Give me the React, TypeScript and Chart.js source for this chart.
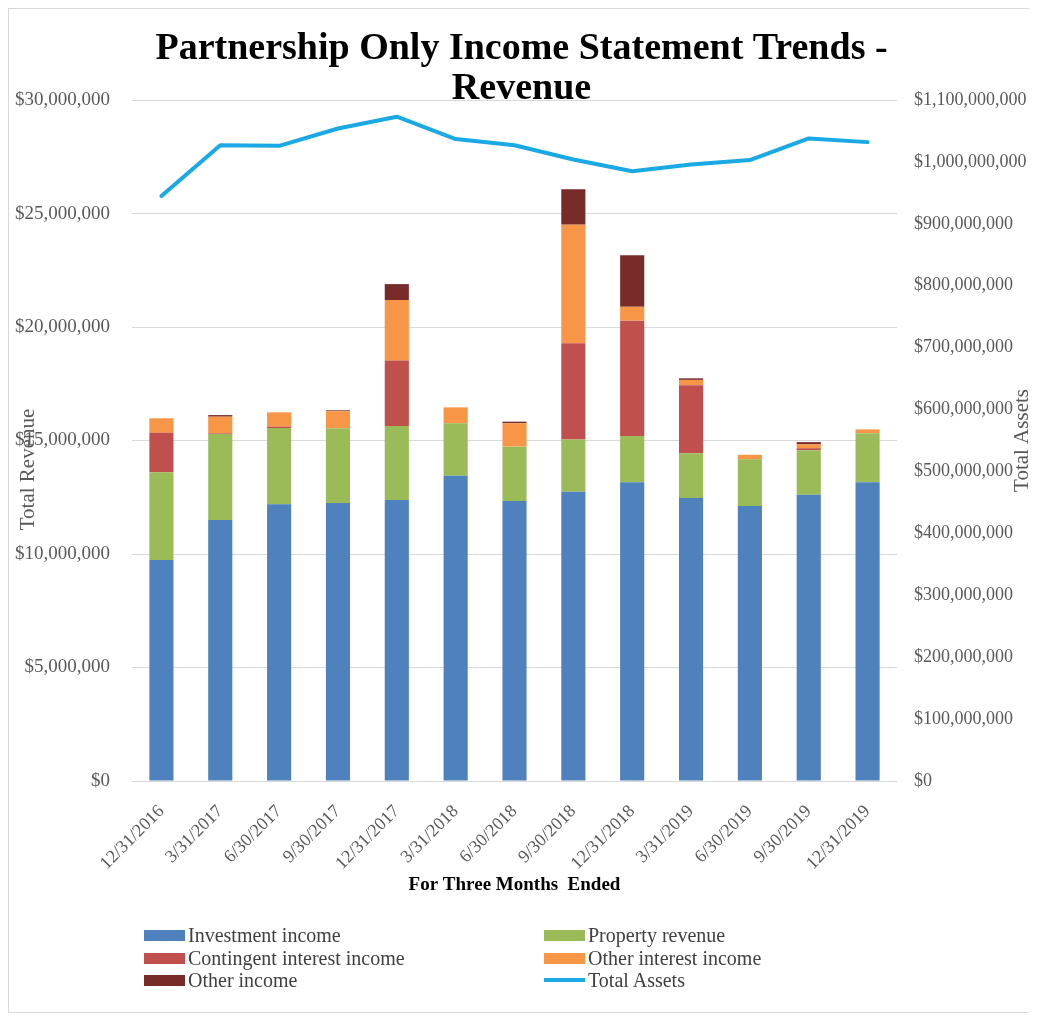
import React, { useEffect, useRef } from "react";
import { Chart, registerables } from "chart.js";

Chart.register(...registerables);

const categories = [
  "12/31/2016", "3/31/2017", "6/30/2017", "9/30/2017", "12/31/2017", "3/31/2018",
  "6/30/2018", "9/30/2018", "12/31/2018", "3/31/2019", "6/30/2019", "9/30/2019", "12/31/2019",
];

const investmentIncome = [9740000, 11500000, 12190000, 12250000, 12380000, 13450000, 12330000, 12740000, 13160000, 12470000, 12110000, 12610000, 13160000];
const propertyRevenue = [3860000, 3790000, 3360000, 3290000, 3260000, 2310000, 2400000, 2310000, 2040000, 1970000, 2060000, 1960000, 2160000];
const contingentInterestIncome = [1740000, 30000, 60000, 0, 2880000, 0, 0, 4230000, 5080000, 3000000, 0, 90000, 0];
const otherInterestIncome = [640000, 730000, 630000, 750000, 2670000, 700000, 1030000, 5230000, 610000, 230000, 200000, 170000, 170000];
const otherIncome = [0, 70000, 0, 40000, 700000, 0, 70000, 1560000, 2270000, 70000, 0, 100000, 0];
const totalAssets = [945000000, 1027000000, 1026000000, 1054000000, 1073000000, 1037000000, 1027000000, 1004000000, 985000000, 996000000, 1003000000, 1038000000, 1032000000];

const seriesNames = ["Investment income", "Property revenue", "Contingent interest income", "Other interest income", "Other income", "Total Assets"];
const seriesColors = ["#4F81BD", "#9BBB59", "#C0504D", "#F79646", "#772C2A", "#1AA9E4"];

const titleLines = ["Partnership Only Income Statement Trends -", "Revenue"];
const leftAxisTitle = "Total Revenue";
const rightAxisTitle = "Total Assets";
const xAxisTitle = "For Three Months  Ended";

const revenueTicks = { min: 0, max: 30000000, step: 5000000 };
const assetTicks = { min: 0, max: 1100000000, step: 100000000 };

const SERIF = '"Liberation Serif", "Times New Roman", serif';
const money = (v: number) => "$" + Number(v).toLocaleString("en-US");

const axisTitlesPlugin = {
  id: "axisTitles",
  afterDraw(chart: any) {
    const { ctx, chartArea } = chart;
    const cy = (chartArea.top + chartArea.bottom) / 2;
    ctx.save();
    ctx.fillStyle = "#595959";
    ctx.font = `21px ${SERIF}`;
    ctx.textAlign = "center";
    ctx.textBaseline = "middle";
    ctx.save();
    ctx.translate(chartArea.left - 104, cy + 29);
    ctx.rotate(-Math.PI / 2);
    ctx.fillText(leftAxisTitle, 0, 0);
    ctx.restore();
    ctx.save();
    ctx.translate(chartArea.right + 125, cy);
    ctx.rotate(-Math.PI / 2);
    ctx.fillText(rightAxisTitle, 0, 0);
    ctx.restore();
    ctx.restore();
  },
};

export default function App() {
  const ref = useRef<HTMLCanvasElement | null>(null);

  useEffect(() => {
    if (!ref.current) return;
    const barSeries = [investmentIncome, propertyRevenue, contingentInterestIncome, otherInterestIncome, otherIncome];
    const datasets: any[] = barSeries.map((d, i) => ({
      type: "bar",
      label: seriesNames[i],
      data: d,
      backgroundColor: seriesColors[i],
      borderWidth: 0,
      yAxisID: "y",
      stack: "rev",
      order: 1,
      barPercentage: 0.41,
      categoryPercentage: 1,
    }));
    datasets.push({
      type: "line",
      label: seriesNames[5],
      data: totalAssets,
      borderColor: seriesColors[5],
      backgroundColor: seriesColors[5],
      borderWidth: 4,
      pointRadius: 0,
      tension: 0,
      yAxisID: "y1",
      order: 0,
      borderJoinStyle: "round",
      borderCapStyle: "round",
    });

    const chart = new Chart(ref.current, {
      type: "bar",
      data: { labels: categories, datasets },
      plugins: [axisTitlesPlugin],
      options: {
        responsive: false,
        animation: false,
        layout: { padding: { left: 0, right: 0, top: 0, bottom: 115 } },
        plugins: {
          legend: { display: false },
          tooltip: { enabled: false },
          title: {
            display: true,
            text: titleLines,
            color: "#000000",
            font: { family: SERIF, size: 38, weight: "bold", lineHeight: 1.053 },
            padding: { top: 20.5, bottom: -9.5 },
          },
        },
        scales: {
          x: {
            stacked: true,
            grid: { display: false, drawTicks: false },
            border: { display: false },
            ticks: {
              color: "#595959",
              font: { family: SERIF, size: 18 },
              minRotation: 45,
              maxRotation: 45,
              padding: 20,
              autoSkip: false,
            },
            title: {
              display: true,
              text: xAxisTitle,
              color: "#000000",
              font: { family: SERIF, size: 19, weight: "bold", lineHeight: 1.2 },
              padding: { top: 0, bottom: 1 },
            },
            afterFit: (s: any) => { s.height = 116; },
          },
          y: {
            stacked: true,
            position: "left",
            min: revenueTicks.min,
            max: revenueTicks.max,
            grid: { color: "#d9d9d9", drawTicks: false, lineWidth: 1 },
            border: { display: false },
            ticks: {
              stepSize: revenueTicks.step,
              color: "#595959",
              font: { family: SERIF, size: 19 },
              padding: 22,
              callback: (v: any) => money(v),
            },
            afterFit: (s: any) => { s.width = 123; },
          },
          y1: {
            stacked: false,
            position: "right",
            min: assetTicks.min,
            max: assetTicks.max,
            grid: { display: false, drawTicks: false },
            border: { display: false },
            ticks: {
              stepSize: assetTicks.step,
              color: "#595959",
              font: { family: SERIF, size: 18 },
              padding: 17,
              callback: (v: any) => money(v),
            },
            afterFit: (s: any) => { s.width = 137; },
          },
        },
      } as any,
    });
    return () => chart.destroy();
  }, []);

  const legendRows = [[0, 1], [2, 3], [4, 5]];
  const rowTops = [926, 949, 971];
  const colLefts = [135, 535];

  return (
    <div
      style={{
        position: "relative",
        width: 1027,
        height: 1005,
        boxSizing: "border-box",
        border: "1px solid #d9d9d9",
        background: "#ffffff",
        fontFamily: SERIF,
      }}
    >
      <canvas ref={ref} width={1025} height={1003} style={{ position: "absolute", left: 0, top: 0, width: 1025, height: 1003 }} />
      {legendRows.map((row, r) =>
        row.map((si, c) => (
          <div
            key={si}
            style={{
              position: "absolute",
              left: colLefts[c],
              top: rowTops[r] - 12,
              height: 24,
              display: "flex",
              alignItems: "center",
              whiteSpace: "nowrap",
              fontSize: 20,
              color: "#404040",
            }}
          >
            <span
              style={{
                display: "inline-block",
                width: 41,
                height: si === 5 ? 4 : 11,
                background: seriesColors[si],
                marginRight: 3,
              }}
            />
            <span>{seriesNames[si]}</span>
          </div>
        ))
      )}
    </div>
  );
}
